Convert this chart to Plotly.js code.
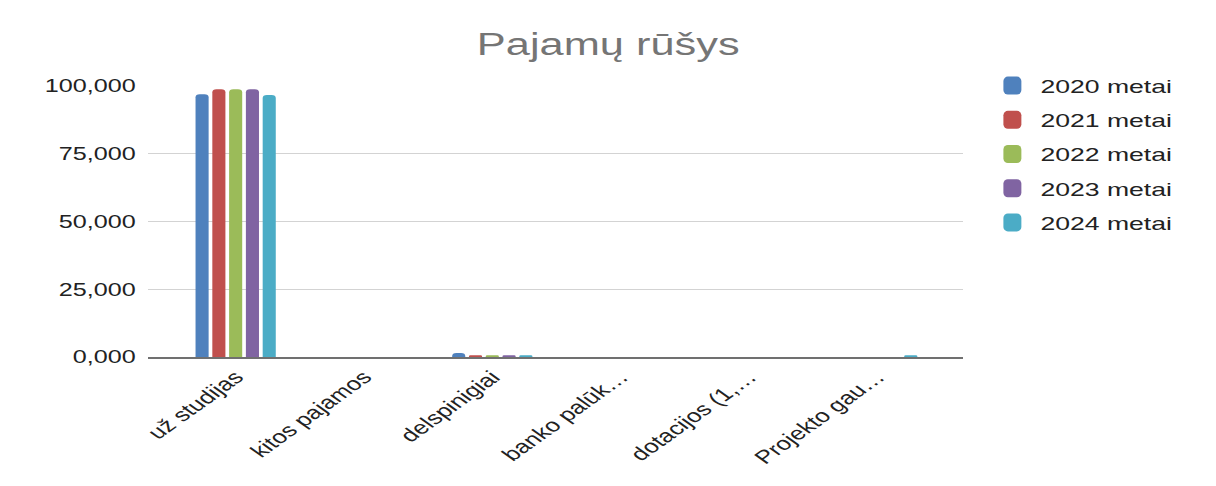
<!DOCTYPE html>
<html>
<head>
<meta charset="utf-8">
<script src="https://cdn.plot.ly/plotly-3.0.1.min.js"></script>
<style>
  html, body { margin: 0; padding: 0; background: #ffffff; overflow: hidden; }
  #wrap { width: 1216px; height: 486px; overflow: hidden; }
  /* the chart is laid out narrower and widened horizontally, giving the wide lettering */
  #chart { width: 869px; height: 486px; transform-origin: 0 0; transform: scaleX(1.4); }
</style>
</head>
<body>
<div id="wrap"><div id="chart"></div></div>
<script>
// Income types, share of total income (%) by year
const categories = ["už studijas", "kitos pajamos", "delspinigiai", "banko palūk…", "dotacijos (1,…", "Projekto gau…"];
const seriesNames = ["2020 metai", "2021 metai", "2022 metai", "2023 metai", "2024 metai"];
const values2020 = [97.0, 0, 1.5, 0, 0, 0];
const values2021 = [98.8, 0, 0.6, 0, 0, 0];
const values2022 = [98.8, 0, 0.6, 0, 0, 0];
const values2023 = [98.8, 0, 0.6, 0, 0, 0];
const values2024 = [96.7, 0, 0.6, 0, 0, 0.6];
const yTicks = [0, 25, 50, 75, 100];

const seriesValues = [values2020, values2021, values2022, values2023, values2024];
const colors = ["#4f81bd", "#c0504d", "#9bbb59", "#8064a2", "#4bacc6"];

const traces = seriesNames.map((name, i) => ({
  type: "bar",
  name: name,
  x: categories,
  y: seriesValues[i],
  legendgroup: "g" + i,
  marker: { color: colors[i], line: { width: 0 } },
  hoverinfo: "x+y+name"
}));

const layout = {
  width: 869,
  height: 486,
  paper_bgcolor: "#ffffff",
  plot_bgcolor: "#ffffff",
  separators: ",.",
  font: { family: "Liberation Sans, Arial, sans-serif", color: "#222222", size: 18 },
  title: {
    text: "Pajamų rūšys",
    font: { size: 31, color: "#757575" },
    x: 0.5, xanchor: "center",
    y: 1 - 44 / 486, yanchor: "middle", yref: "container"
  },
  margin: { l: 106, r: 181, t: 86, b: 129, pad: 0 },
  barmode: "group",
  bargap: 0.346,
  bargroupgap: 0.22,
  barcornerradius: 3,
  xaxis: {
    type: "category",
    range: [-0.68, 5.67],
    tickangle: -45,
    showgrid: false,
    showline: true,
    linecolor: "#707070",
    linewidth: 2,
    ticks: "",
    zeroline: false,
    tickfont: { size: 18.5, color: "#222222" },
    fixedrange: true
  },
  yaxis: {
    range: [0, 100],
    tickvals: yTicks,
    tickformat: ".3f",
    showgrid: true,
    gridcolor: "#d3d3d3",
    gridwidth: 1,
    zeroline: false,
    showline: false,
    ticks: "",
    ticklabelstandoff: 8,
    tickfont: { size: 18, color: "#222222" },
    fixedrange: true
  },
  legend: {
    x: 1.026, xanchor: "left",
    y: 1.071, yanchor: "top",
    font: { size: 19, color: "#222222" },
    traceorder: "grouped",
    tracegroupgap: 6.5,
    itemclick: false,
    bgcolor: "rgba(0,0,0,0)"
  },
  showlegend: true
};

Plotly.newPlot("chart", traces, layout, { displayModeBar: false, staticPlot: true }).then(gd => {
  // square, larger legend swatches
  gd.querySelectorAll(".legend .legendpoints path").forEach(p => {
    const t = p.getAttribute("transform") || "";
    p.setAttribute("transform", t + " scale(1.07,1.5)");
  });
});
</script>
</body>
</html>
